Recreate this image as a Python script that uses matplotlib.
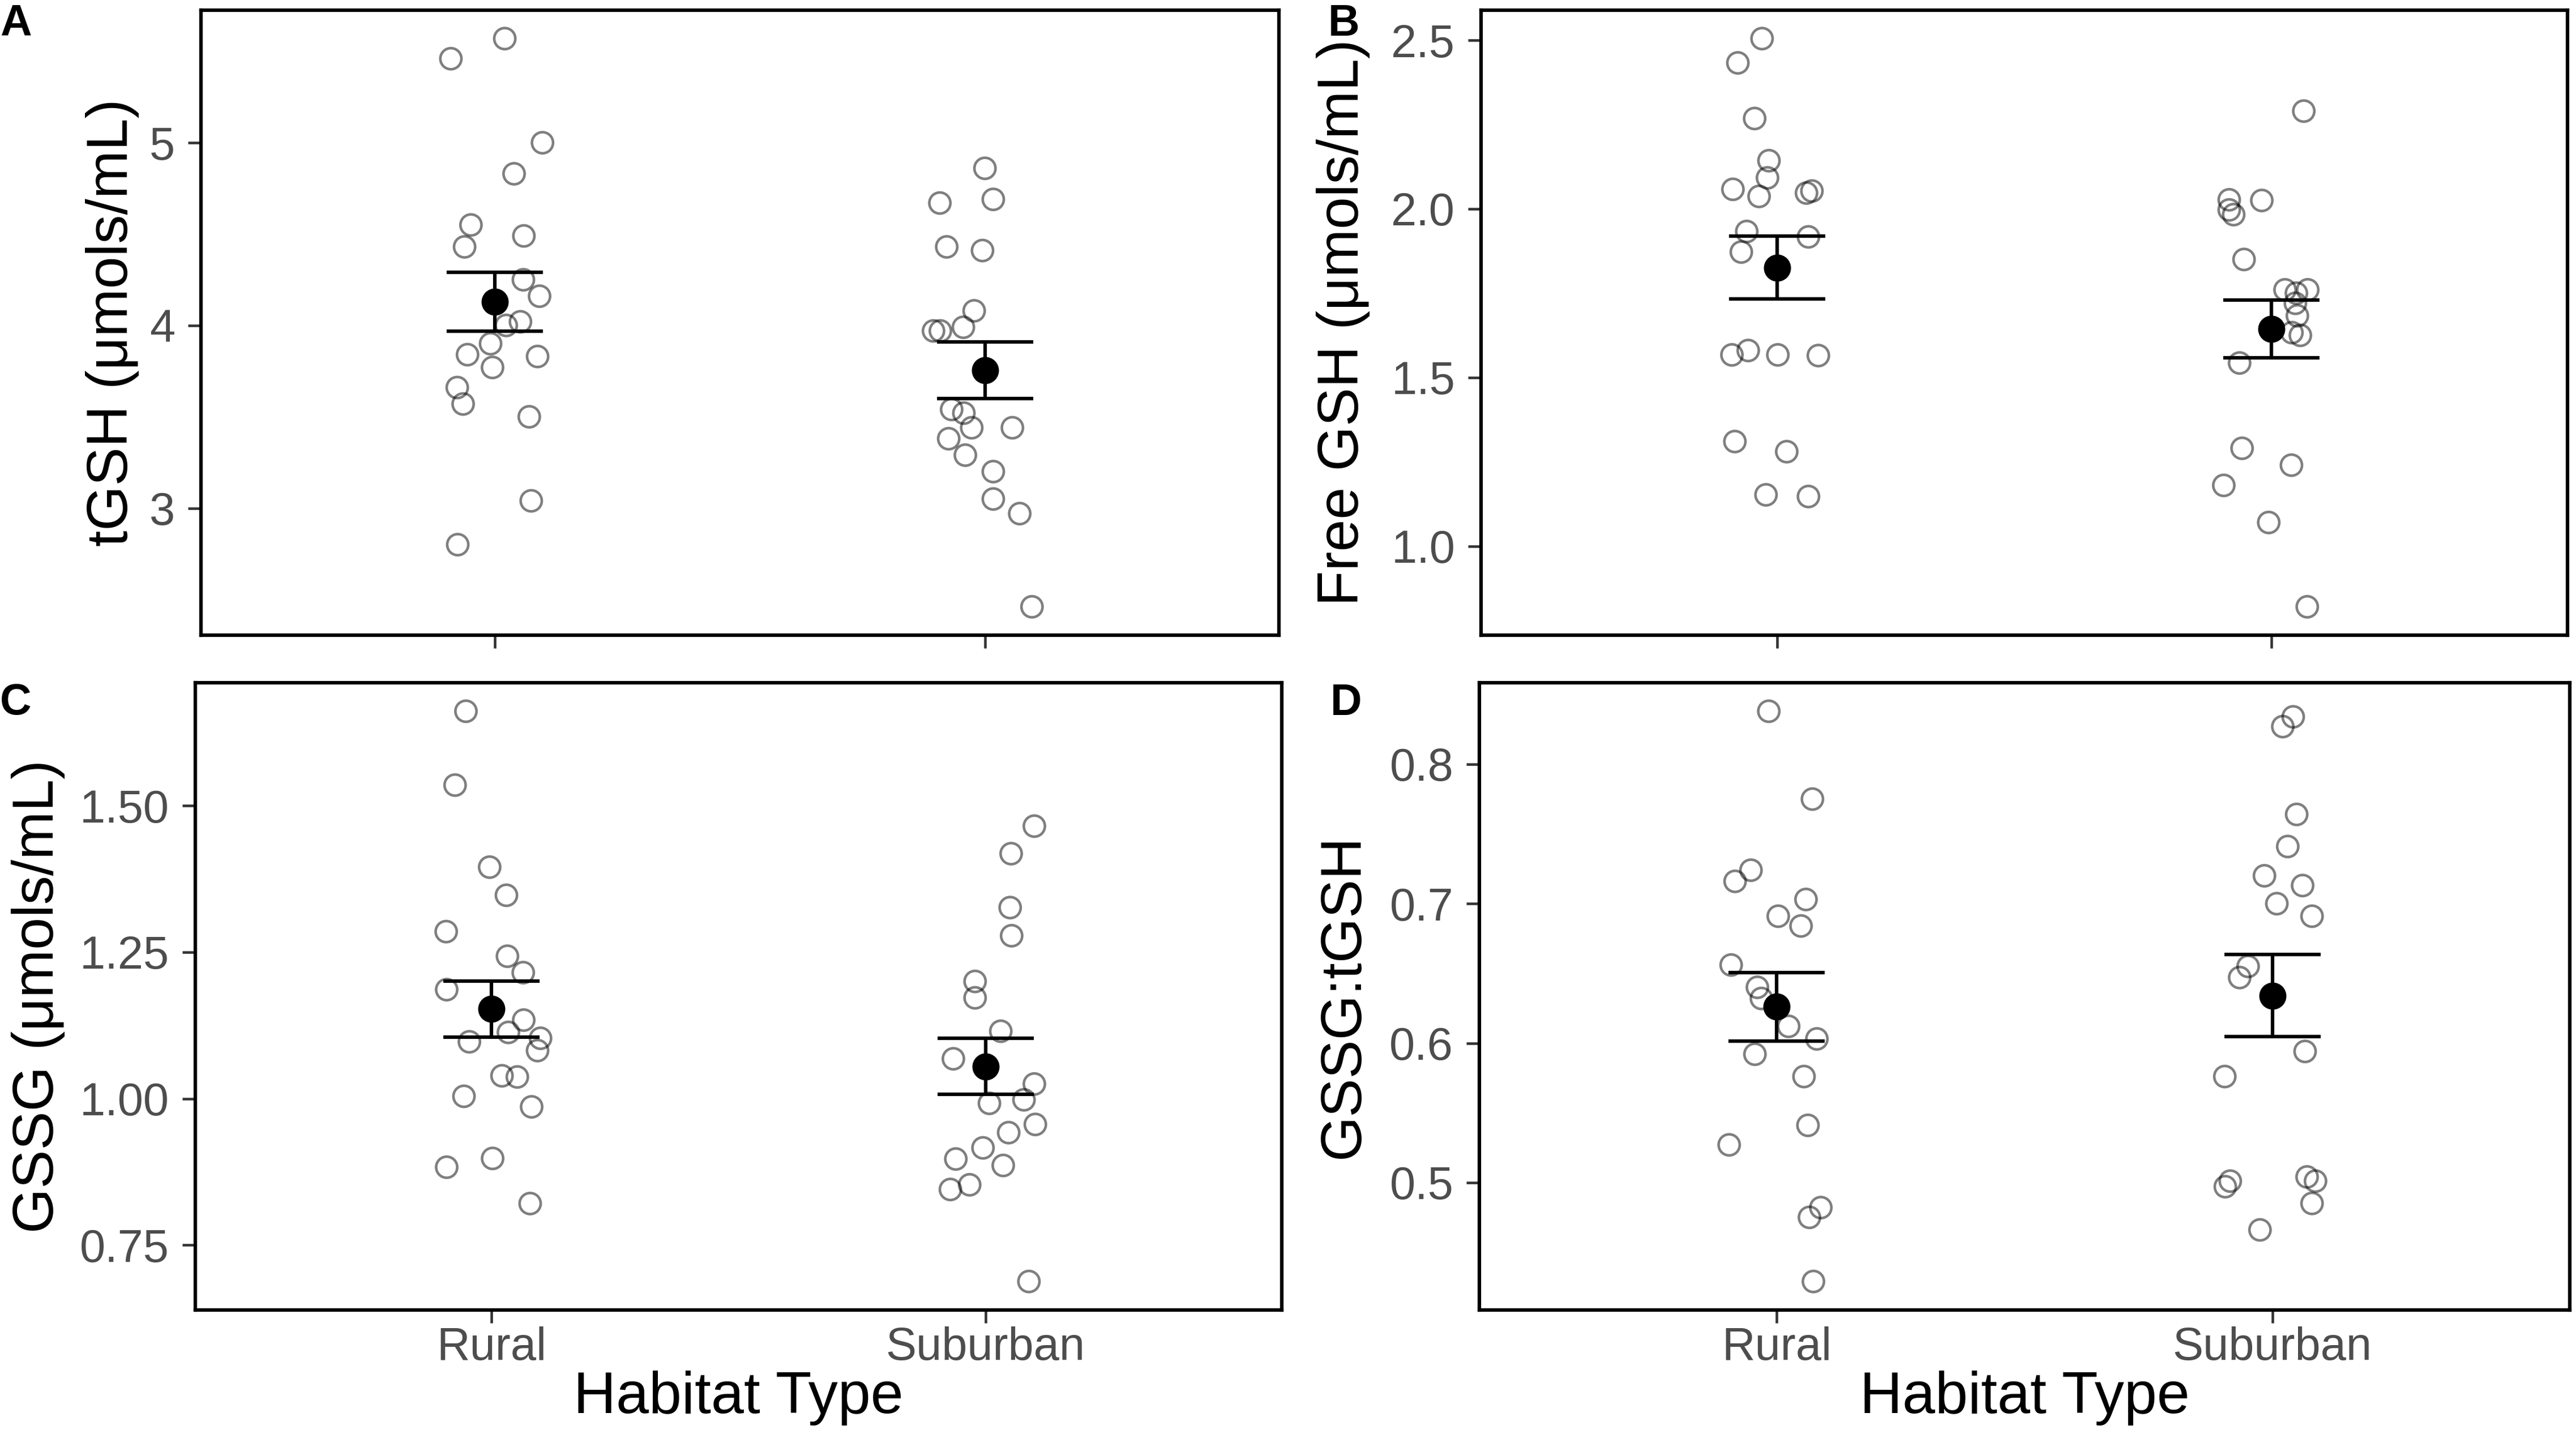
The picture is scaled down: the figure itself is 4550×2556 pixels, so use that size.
import matplotlib
matplotlib.use('Agg')
import matplotlib.pyplot as plt

plt.rcParams['font.family'] = ['Liberation Sans', 'DejaVu Sans']

groups = ['Rural', 'Suburban']

# A - tGSH
tgsh_rural = [5.46, 5.57, 5.00, 4.83, 4.55, 4.43, 4.49, 4.25, 4.16, 4.02,
              4.00, 3.90, 3.84, 3.83, 3.77, 3.66, 3.57, 3.50, 3.04, 2.80]
tgsh_rural_jit = [-0.09, 0.02, 0.097, 0.039, -0.049, -0.062, 0.059, 0.058, 0.091, 0.052,
                  0.023, -0.009, -0.056, 0.087, -0.005, -0.077, -0.065, 0.07, 0.074, -0.076]
tgsh_sub = [4.86, 4.67, 4.69, 4.43, 4.41, 4.08, 3.99, 3.97, 3.97, 3.54,
            3.52, 3.44, 3.44, 3.38, 3.29, 3.20, 3.05, 2.97, 2.46]
tgsh_sub_jit = [0.0, -0.092, 0.017, -0.078, -0.005, -0.022, -0.044, -0.105, -0.091, -0.068,
                -0.043, -0.027, 0.056, -0.074, -0.04, 0.017, 0.017, 0.071, 0.096]
tgsh_mean = [4.13, 3.755]
tgsh_se = [0.16, 0.155]

# B - Free GSH
free_rural = [2.505, 2.433, 2.268, 2.143, 2.092, 2.058, 2.037, 2.047, 2.053, 1.933,
              1.917, 1.872, 1.567, 1.580, 1.567, 1.565, 1.310, 1.280, 1.152, 1.147]
free_rural_jit = [-0.031, -0.08, -0.046, -0.017, -0.02, -0.09, -0.037, 0.059, 0.07, -0.062,
                  0.063, -0.073, -0.092, -0.059, 0.001, 0.083, -0.086, 0.019, -0.023, 0.063]
free_sub = [2.29, 2.027, 2.025, 1.997, 1.983, 1.85, 1.76, 1.76, 1.75, 1.72,
            1.683, 1.633, 1.625, 1.543, 1.29, 1.24, 1.18, 1.07, 0.82]
free_sub_jit = [0.066, -0.085, -0.019, -0.085, -0.076, -0.055, 0.028, 0.074, 0.051, 0.049,
                0.053, 0.042, 0.059, -0.064, -0.059, 0.041, -0.096, -0.005, 0.073]
free_mean = [1.826, 1.644]
free_se = [0.093, 0.086]

# C - GSSG
gssg_rural = [1.661, 1.535, 1.395, 1.347, 1.285, 1.243, 1.215, 1.186, 1.134, 1.113,
              1.097, 1.103, 1.082, 1.039, 1.037, 1.004, 0.986, 0.883, 0.898, 0.821]
gssg_rural_jit = [-0.052, -0.074, -0.004, 0.03, -0.092, 0.032, 0.064, -0.091, 0.065, 0.034,
                  -0.045, 0.099, 0.093, 0.021, 0.052, -0.056, 0.081, -0.091, 0.002, 0.078]
gssg_sub = [1.465, 1.418, 1.326, 1.278, 1.200, 1.172, 1.115, 1.068, 1.025, 0.992,
            0.998, 0.956, 0.942, 0.916, 0.897, 0.886, 0.853, 0.845, 0.688]
gssg_sub_jit = [0.099, 0.052, 0.05, 0.053, -0.021, -0.021, 0.031, -0.065, 0.099, 0.008,
                0.078, 0.101, 0.047, -0.005, -0.06, 0.036, -0.032, -0.071, 0.088]
gssg_mean = [1.153, 1.055]
gssg_se = [0.048, 0.048]

# D - GSSG:tGSH
ratio_rural = [0.838, 0.775, 0.724, 0.716, 0.703, 0.691, 0.684, 0.656, 0.640, 0.632,
               0.612, 0.603, 0.592, 0.576, 0.541, 0.527, 0.482, 0.475, 0.429]
ratio_rural_jit = [-0.016, 0.072, -0.052, -0.084, 0.059, 0.003, 0.049, -0.092, -0.039, -0.031,
                   0.024, 0.081, -0.044, 0.055, 0.063, -0.096, 0.089, 0.066, 0.074]
ratio_sub = [0.834, 0.827, 0.764, 0.741, 0.720, 0.713, 0.700, 0.691, 0.655, 0.647,
             0.594, 0.576, 0.501, 0.497, 0.504, 0.501, 0.485, 0.466]
ratio_sub_jit = [0.042, 0.021, 0.049, 0.031, -0.016, 0.061, 0.009, 0.080, -0.049, -0.066,
                 0.066, -0.096, -0.085, -0.095, 0.070, 0.087, 0.080, -0.025]
ratio_mean = [0.626, 0.634]
ratio_se = [0.0245, 0.0295]

W, H = 4550, 2556
fig = plt.figure(figsize=(W / 300, H / 300), dpi=300)


def add_panel(box, rural, rjit, sub, sjit, mean, se, yticks, ticklabels,
              ylabel, label_x, letter, letter_xy, show_x):
    l, t, r, b = box
    ax = fig.add_axes([l / W, 1 - b / H, (r - l) / W, (b - t) / H])
    pts_x = [1 + j for j in rjit] + [2 + j for j in sjit]
    pts_y = rural + sub
    ax.scatter(pts_x, pts_y, s=80, facecolors='none', edgecolors='black',
               linewidths=1.1, alpha=0.5, zorder=2)
    ax.errorbar([1, 2], mean, yerr=se, fmt='o', color='black', markersize=10.5,
                elinewidth=1.5, capsize=20.5, capthick=1.5, zorder=3)
    lo = min(pts_y)
    hi = max(pts_y)
    pad = (hi - lo) * 0.05
    ax.set_ylim(lo - pad, hi + pad)
    ax.set_xlim(0.4, 2.6)
    ax.set_xticks([1, 2])
    ax.set_yticks(yticks)
    ax.set_yticklabels(ticklabels)
    if show_x:
        ax.set_xticklabels(groups)
        ax.set_xlabel('Habitat Type', fontsize=25, labelpad=0.5)
    else:
        ax.set_xticklabels([])
    ax.tick_params(length=5.5, width=1.1, color='#333333', labelcolor='#4D4D4D',
                   labelsize=19.5)
    ax.tick_params(axis='x', pad=1.5)
    ax.tick_params(axis='y', pad=5.5)
    for sp in ax.spines.values():
        sp.set_linewidth(1.5)
    ax.set_ylabel(ylabel, fontsize=24.5)
    ax.yaxis.set_label_coords(label_x, 0.5)
    fig.text(letter_xy[0] / W, 1 - letter_xy[1] / H, letter, fontsize=18.5,
             fontweight='bold', ha='left', va='baseline')
    return ax


add_panel((355, 18, 2259, 1122), tgsh_rural, tgsh_rural_jit, tgsh_sub, tgsh_sub_jit,
          tgsh_mean, tgsh_se, [3, 4, 5], ['3', '4', '5'],
          'tGSH (μmols/mL)', -0.057, 'A', (0, 63), False)
add_panel((2616, 18, 4535, 1122), free_rural, free_rural_jit, free_sub, free_sub_jit,
          free_mean, free_se, [1.0, 1.5, 2.0, 2.5], ['1.0', '1.5', '2.0', '2.5'],
          'Free GSH (μmols/mL)', -0.102, 'B', (2346, 63), False)
add_panel((345, 1206, 2264, 2314), gssg_rural, gssg_rural_jit, gssg_sub, gssg_sub_jit,
          gssg_mean, gssg_se, [0.75, 1.0, 1.25, 1.5], ['0.75', '1.00', '1.25', '1.50'],
          'GSSG (μmols/mL)', -0.120, 'C', (0, 1262), True)
add_panel((2613, 1206, 4539, 2314), ratio_rural, ratio_rural_jit, ratio_sub, ratio_sub_jit,
          ratio_mean, ratio_se, [0.5, 0.6, 0.7, 0.8], ['0.5', '0.6', '0.7', '0.8'],
          'GSSG:tGSH', -0.100, 'D', (2350, 1263), True)

fig.savefig('out.png', dpi=300)
